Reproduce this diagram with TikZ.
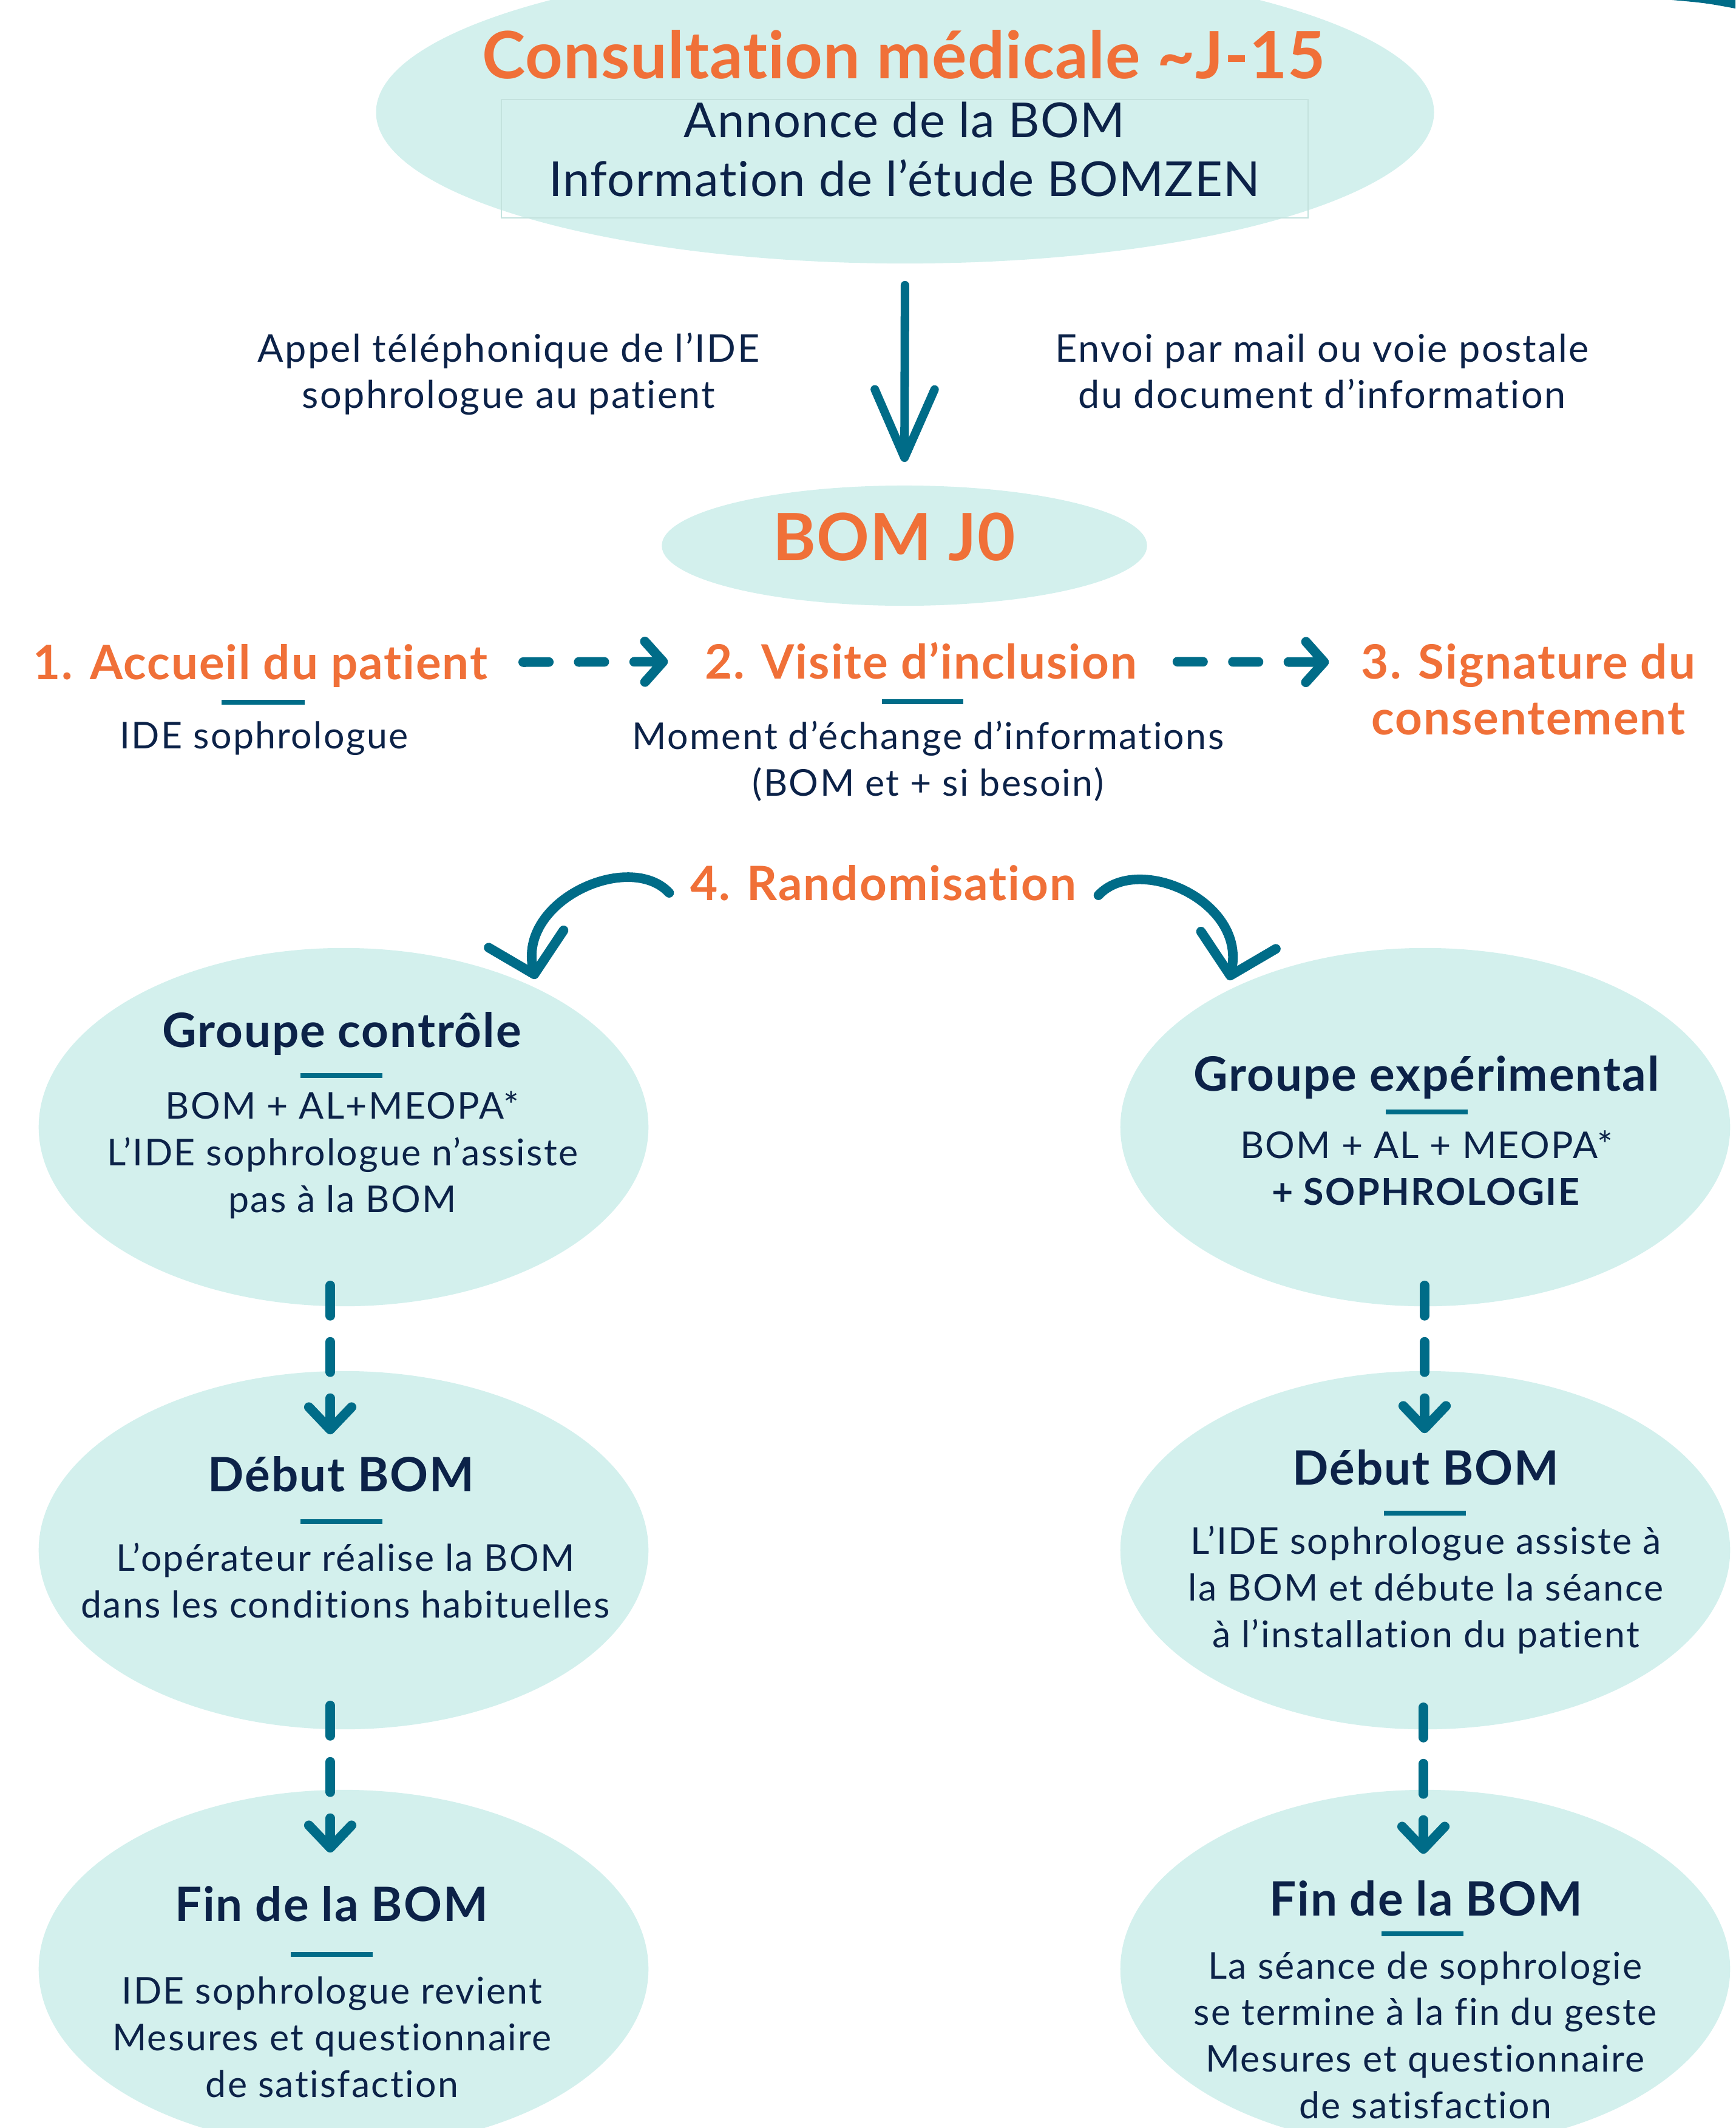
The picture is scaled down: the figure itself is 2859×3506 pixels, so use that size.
\documentclass[tikz,border=0pt]{standalone}
\usepackage{fontspec}
\setmainfont{Lato}[Ligatures=NoCommon]
\newfontfamily\headfont{Lato}[LetterSpace=1, Ligatures=NoCommon]
\newfontfamily\labelfont{Lato}[LetterSpace=2.5, Ligatures=NoCommon]
\newfontfamily\annoncefont{Lato}[LetterSpace=2, Ligatures=NoCommon]
\newfontfamily\bodyfont{Lato}[LetterSpace=3.8, Ligatures=NoCommon]
\usepackage{tikz}
\usetikzlibrary{shapes.geometric, arrows.meta, calc}
\definecolor{bomorange}{RGB}{240,112,56}
\definecolor{bomnavy}{RGB}{12,34,72}
\definecolor{bomteal}{RGB}{0,108,136}
\definecolor{bommint}{RGB}{211,240,237}
\definecolor{bomframe}{RGB}{196,226,222}

\begin{document}
\begin{tikzpicture}[x=0.01cm, y=-0.01cm,
  bubble/.style={ellipse, fill=bommint, inner sep=0pt, minimum width=10.04cm, minimum height=5.9cm},
  headline/.style={text=bomorange, font=\headfont\fontsize{30.6}{36}\selectfont\bfseries, anchor=base, inner sep=0pt},
  annonce/.style={text=bomnavy, font=\annoncefont\fontsize{22.6}{27.3}\selectfont, align=center, anchor=base, inner sep=0pt},
  sidetext/.style={text=bomnavy, font=\bodyfont\fontsize{17.9}{21.6}\selectfont, align=center, anchor=base, inner sep=0pt},
  steplabel/.style={text=bomorange, font=\labelfont\fontsize{22.2}{25.9}\selectfont\bfseries, align=center, anchor=base, inner sep=0pt},
  grouptitle/.style={text=bomnavy, font=\labelfont\fontsize{22.2}{26}\selectfont\bfseries, anchor=base, inner sep=0pt},
  bodytext/.style={text=bomnavy, font=\bodyfont\fontsize{17.3}{21.8}\selectfont, align=center, anchor=base, inner sep=0pt},
  bar/.style={bomteal, line width=2.3pt},
  bigarrow/.style={bomteal, line width=4pt, line cap=round, -{Straight Barb[length=32pt, width=28pt, round]}},
  curvearrow/.style={bomteal, line width=4.5pt, line cap=round, -{Straight Barb[length=17pt, width=36pt, round]}},
  steparrow/.style={bomteal, line width=4.5pt, line cap=round, dash pattern=on 12pt off 14pt, -{Straight Barb[length=8.5pt, width=19pt, round]}},
  downarrow/.style={bomteal, line width=4.5pt, line cap=round, dash pattern=on 14.2pt off 12.2pt, -{Straight Barb[length=10.5pt, width=20pt, round]}}]

% Page
\useasboundingbox (0,0) rectangle (2859,3506);
\clip (0,0) rectangle (2859,3506);
\fill[bomteal] (2755,0) .. controls (2810,5) .. (2859,14) -- (2859,0) -- cycle;

% Consultation
\node[bubble, minimum width=17.42cm, minimum height=4.98cm] (consult) at (1491,185) {};
\node[headline] (consulttitle) at (1489,130) {Consultation médicale \textasciitilde J-15};
\draw[bomframe, line width=0.8pt] (826,164) rectangle (2155,359);
\node[annonce] (annonce) at (1490,323) {Annonce de la BOM\\Information de l’étude BOMZEN};

% Between consultation and BOM J0
\node[sidetext] (appel) at (838,672) {Appel téléphonique de l’IDE\\sophrologue au patient};
\node[sidetext] (envoi) at (2178,672) {Envoi par mail ou voie postale\\du document d’information};

% BOM J0
\node[bubble, minimum width=7.99cm, minimum height=1.98cm] (bomj) at (1490,899) {};
\node[headline] (bomjtitle) at (1473,923) {BOM J0};
\draw[bigarrow, shorten <=0.35cm, shorten >=0.38cm] (consult.south) -- (bomj.north);

% Steps 1 - 3
\node[steplabel] (accueil) at (429,1119) {1. Accueil du patient};
\node[steplabel] (visite) at (1517,1118) {2. Visite d’inclusion};
\node[steplabel] (signature) at (2518,1210) {3. Signature du\\consentement};
\draw[bar] ($(accueil.base)+(-64,38)$) -- ++(137,0);
\draw[bar] ($(visite.base)+(-64,38)$) -- ++(134,0);
\node[bodytext] (accueilide) at (435,1233) {IDE sophrologue};
\node[bodytext] (moment) at (1529,1311) {Moment d’échange d’informations\\(BOM et + si besoin)};
\draw[steparrow, shorten <=0.58cm, shorten >=0.6cm] ($(accueil.base east)+(0,-28)$) -- ($(visite.base west)+(0,-28)$);
\draw[steparrow, shorten <=0.66cm, shorten >=0.53cm] ($(visite.base east)+(0,-28)$) -- ($(signature.base west)+(0,-119)$);

% Randomisation
\node[steplabel] (rando) at (1455,1483) {4. Randomisation};

% Groups
\node[bubble] (ctrl) at (566,1857) {};
\node[bubble] (exper) at (2348,1857) {};
\node[bubble] (debutc) at (566,2554) {};
\node[bubble] (debute) at (2348,2554) {};
\node[bubble] (finc) at (566,3244) {};
\node[bubble] (fine) at (2348,3244) {};

\draw[curvearrow] ($(rando.base west)+(-34,-12)$) .. controls +(-65,-70) and +(-30,-130) .. ($(ctrl.center)+(316,-244)$);
\draw[curvearrow] ($(rando.base east)+(36,-8)$) .. controls +(65,-70) and +(30,-130) .. ($(exper.center)+(-323,-242)$);

% Control group
\node[grouptitle] (ctrltitle) at (563,1725) {Groupe contrôle};
\draw[bar] (495,1772) -- (630,1772);
\node[bodytext] (ctrltext) at (564,1997) {BOM + AL+MEOPA*\\L’IDE sophrologue n’assiste\\pas à la BOM};

% Experimental group
\node[grouptitle] (expertitle) at (2350,1797) {Groupe expérimental};
\draw[bar] (2283,1832) -- (2418,1832);
\node[bodytext] (expertext) at (2350,1985) {BOM + AL + MEOPA*\\\textbf{+ SOPHROLOGIE}};

% Start of the BOM
\node[grouptitle] (debutctitle) at (562,2457) {Début BOM};
\draw[bar] (495,2507) -- (630,2507);
\node[bodytext] (debutctext) at (569,2665) {L’opérateur réalise la BOM\\dans les conditions habituelles};
\node[grouptitle] (debutetitle) at (2349,2446) {Début BOM};
\draw[bar] (2280,2493) -- (2415,2493);
\node[bodytext] (debutetext) at (2349,2714) {L’IDE sophrologue assiste à\\la BOM et débute la séance\\à l’installation du patient};

% End of the BOM
\node[grouptitle] (finctitle) at (546,3165) {Fin de la BOM};
\draw[bar] (479,3220) -- (614,3220);
\node[bodytext] (finctext) at (547,3455) {IDE sophrologue revient\\Mesures et questionnaire\\de satisfaction};
\node[grouptitle] (finetitle) at (2349,3156) {Fin de la BOM};
\draw[bar] (2276,3186) -- (2411,3186);
\node[bodytext] (finetext) at (2348,3490) {La séance de sophrologie\\se termine à la fin du geste\\Mesures et questionnaire\\de satisfaction};

% Dashed arrows down
\draw[downarrow] ($(ctrl.south)+(-22,-35)$) -- ($(debutc.north)+(-22,105)$);
\draw[downarrow] ($(exper.south)+(-1,-35)$) -- ($(debute.north)+(-1,103)$);
\draw[downarrow] ($(debutc.south)+(-22,-40)$) -- ($(finc.north)+(-22,104)$);
\draw[downarrow] ($(debute.south)+(-3,-37)$) -- ($(fine.north)+(-3,106)$);

\end{tikzpicture}
\end{document}
